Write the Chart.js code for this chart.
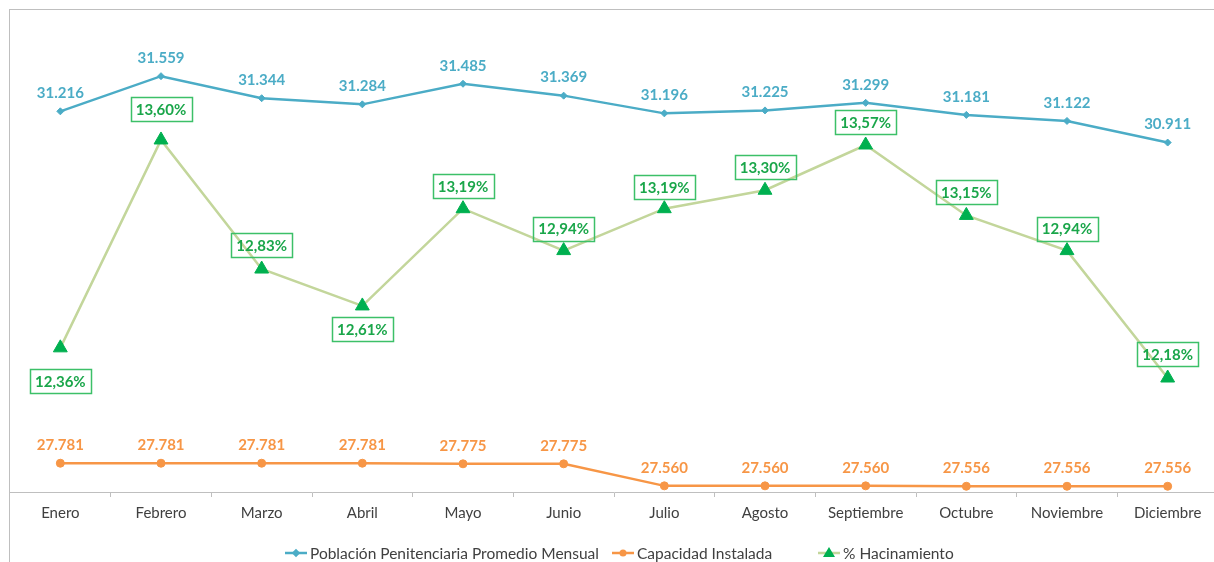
<!DOCTYPE html>
<html>
<head>
<meta charset="utf-8">
<script src="https://cdn.jsdelivr.net/npm/chart.js@4.4.1/dist/chart.umd.min.js"></script>
<style>
  html, body { margin: 0; padding: 0; background: #fff; overflow: hidden; }
  #wrap { position: absolute; left: 0; top: 0; width: 1227px; height: 562px; }
  #frame { position: absolute; left: 9px; top: 9px; width: 1300px; height: 700px;
           border-left: 1px solid #bfbfbf; border-top: 1px solid #bfbfbf; pointer-events: none; }
  #legend { position: absolute; left: 0; top: 544px; width: 1214px; height: 18px;
            font-family: Lato, "Liberation Sans", sans-serif; font-size: 15.5px; color: #404040; white-space: nowrap; }
  #legend .item { position: absolute; top: 0; display: flex; align-items: center; }
  #legend svg { margin-right: 3px; }
</style>
</head>
<body>
<div id="frame"></div>
<div id="wrap"><canvas id="chart"></canvas></div>
<div id="legend"></div>
<script>
// ── data ───────────────────────────────────────────────────────
const months = ['Enero', 'Febrero', 'Marzo', 'Abril', 'Mayo', 'Junio',
                'Julio', 'Agosto', 'Septiembre', 'Octubre', 'Noviembre', 'Diciembre'];

const poblacion = [31216, 31559, 31344, 31284, 31485, 31369, 31196, 31225, 31299, 31181, 31122, 30911];
const capacidad = [27781, 27781, 27781, 27781, 27775, 27775, 27560, 27560, 27560, 27556, 27556, 27556];
const hacinamiento = [12.36, 13.60, 12.83, 12.61, 13.19, 12.94, 13.19, 13.30, 13.57, 13.15, 12.94, 12.18];

const seriesNames = ['Población Penitenciaria Promedio Mensual', 'Capacidad Instalada', '% Hacinamiento'];

// label offsets (px from point) for the % labels; + is below
const hacLabelOffset = [33, -31, -24, 23, -23, -22, -22, -23, -23, -23, -22, -24];
// left edge of each legend entry
const legendLeft = [285, 612, 818];

const BLUE = '#4bacc6';
const ORANGE = '#f79646';
const GREEN_LINE = '#c3d69b';
const GREEN = '#00b050';

const fmtMiles = (v) => String(v).replace(/\B(?=(\d{3})+(?!\d))/g, '.');
const fmtPct = (v) => v.toFixed(2).replace('.', ',') + '%';

// draws the value labels above / below each point
const valueLabels = {
  id: 'valueLabels',
  afterDatasetsDraw(chart) {
    const ctx = chart.ctx;
    ctx.save();
    ctx.font = 'bold 15px Lato, "Liberation Sans", sans-serif';
    ctx.textAlign = 'center';
    ctx.textBaseline = 'middle';
    chart.data.datasets.forEach((ds, di) => {
      const meta = chart.getDatasetMeta(di);
      meta.data.forEach((pt, i) => {
        const text = ds.fmt(ds.data[i]);
        const off = Array.isArray(ds.labelOffset) ? ds.labelOffset[i] : ds.labelOffset;
        const x = pt.x, y = pt.y + off;
        if (ds.labelBox) {
          const w = ctx.measureText(text).width + 10;
          const h = 24;
          ctx.strokeStyle = '#3cc068';
          ctx.lineWidth = 1.5;
          ctx.strokeRect(Math.round(x - w / 2) + 0.5, Math.round(y - h / 2) + 0.5, Math.round(w), h);
        }
        ctx.fillStyle = ds.labelColor;
        ctx.fillText(text, x, y + 1);
      });
    });
    ctx.restore();
  }
};

new Chart(document.getElementById('chart'), {
  type: 'line',
  data: {
    labels: months,
    datasets: [
      {
        label: seriesNames[0],
        data: poblacion,
        yAxisID: 'y',
        borderColor: BLUE,
        backgroundColor: BLUE,
        borderWidth: 2.5,
        pointStyle: 'rectRot',
        pointRadius: 3.5,
        pointBorderWidth: 1,
        tension: 0,
        fmt: fmtMiles,
        labelOffset: -19,
        labelColor: BLUE
      },
      {
        label: seriesNames[1],
        data: capacidad,
        yAxisID: 'y',
        borderColor: ORANGE,
        backgroundColor: ORANGE,
        borderWidth: 2.5,
        pointStyle: 'circle',
        pointRadius: 4,
        pointBorderWidth: 1,
        tension: 0,
        fmt: fmtMiles,
        labelOffset: -19,
        labelColor: ORANGE
      },
      {
        label: seriesNames[2],
        data: hacinamiento,
        yAxisID: 'y1',
        borderColor: GREEN_LINE,
        backgroundColor: GREEN,
        pointBorderColor: GREEN,
        borderWidth: 2.5,
        pointStyle: 'triangle',
        pointRadius: 8,
        pointBorderWidth: 1,
        tension: 0,
        fmt: fmtPct,
        labelOffset: hacLabelOffset,
        labelColor: '#1aa64a',
        labelBox: true
      }
    ]
  },
  options: {
    responsive: true,
    maintainAspectRatio: false,
    animation: false,
    layout: { padding: { top: 31, left: 10, right: 7, bottom: 33 } },
    plugins: {
      legend: { display: false },
      tooltip: { enabled: false }
    },
    scales: {
      x: {
        offset: true,
        grid: { offset: true, drawOnChartArea: false, drawTicks: true, tickLength: 5, color: '#bfbfbf' },
        border: { display: true, color: '#bfbfbf', width: 1 },
        ticks: {
          color: '#404040',
          padding: 7,
          maxRotation: 0,
          font: { family: 'Lato, "Liberation Sans", sans-serif', size: 15 }
        }
      },
      y: { display: false, min: 27500, max: 32000 },
      y1: { display: false, position: 'right', min: 11.5, max: 14.25 }
    }
  },
  plugins: [valueLabels]
});

// legend (line + marker like the original)
const legendIcons = [
  `<line x1="0" y1="7" x2="22" y2="7" stroke="${BLUE}" stroke-width="2.5"/><rect x="8" y="4" width="6" height="6" fill="${BLUE}" transform="rotate(45 11 7)"/>`,
  `<line x1="0" y1="7" x2="22" y2="7" stroke="${ORANGE}" stroke-width="2.5"/><circle cx="11" cy="7" r="3.5" fill="${ORANGE}"/>`,
  `<line x1="0" y1="7" x2="22" y2="7" stroke="${GREEN_LINE}" stroke-width="2.5"/><polygon points="11,1 17,11 5,11" fill="${GREEN}"/>`
];
const legend = document.getElementById('legend');
seriesNames.forEach((name, i) => {
  const item = document.createElement('div');
  item.className = 'item';
  item.style.left = legendLeft[i] + 'px';
  item.innerHTML = `<svg width="22" height="14" viewBox="0 0 22 14">${legendIcons[i]}</svg><span>${name}</span>`;
  legend.appendChild(item);
});
</script>
</body>
</html>
